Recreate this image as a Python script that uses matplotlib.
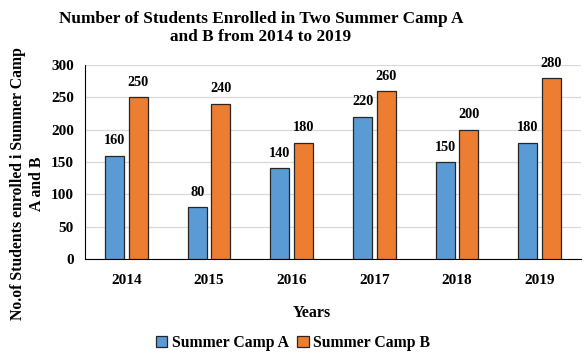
import matplotlib
matplotlib.use("Agg")
import matplotlib.pyplot as plt
import numpy as np

years = ["2014", "2015", "2016", "2017", "2018", "2019"]
camp_a = [160, 80, 140, 220, 150, 180]
camp_b = [250, 240, 180, 260, 200, 280]

plt.rcParams['font.family'] = ['Liberation Serif', 'DejaVu Serif']
plt.rcParams['font.weight'] = 'bold'

W, H = 586, 358
fig = plt.figure(figsize=(W/100, H/100), dpi=100)
ax = fig.add_axes([85/W, 1-259/H, 496/W, 194/H])

x = np.arange(len(years))
w = 0.23
off = 0.142
ba = ax.bar(x - off, camp_a, w, color='#5B9BD5', edgecolor='#262626', linewidth=0.9, label='Summer Camp A', zorder=3)
bb = ax.bar(x + off, camp_b, w, color='#ED7D31', edgecolor='#262626', linewidth=0.9, label='Summer Camp B', zorder=3)
for bars in (ba, bb):
    for r in bars:
        ax.annotate(f"{int(r.get_height())}", (r.get_x() + r.get_width()/2, r.get_height()),
                    xytext=(0, 6), textcoords='offset points',
                    ha='center', va='bottom', fontsize=10.3, fontweight='bold')

ax.set_xlim(-0.5, len(years) - 0.5)
ax.set_ylim(0, 300)
ax.set_yticks(range(0, 301, 50))
ax.set_xticks(x)
ax.set_xticklabels(years, fontsize=11, fontweight='bold')
ax.tick_params(axis='y', length=0, labelsize=11, pad=8)
ax.tick_params(axis='x', length=0, pad=11)
for lab in ax.get_yticklabels():
    lab.set_fontweight('bold')
ax.grid(axis='y', color='#d9d9d9', linewidth=0.9, zorder=0)
ax.spines['top'].set_visible(False)
ax.spines['right'].set_visible(False)
ax.spines['left'].set_color('black')
ax.spines['bottom'].set_color('black')

fig.text(312/W, 1-313/H, "Years", ha='center', va='center', fontsize=11.5, fontweight='bold')
fig.text(27.5/W, 1-184/H, "No.of Students enrolled i Summer Camp\nA and B", rotation=90,
         ha='center', va='center', multialignment='center', fontsize=11.3, fontweight='bold',
         linespacing=1.3)
fig.text(261/W, 1-28/H, "Number of Students Enrolled in Two Summer Camp A\nand B from 2014 to 2019",
         ha='center', va='center', multialignment='center', fontsize=12.4, fontweight='bold',
         linespacing=1.2)

fig.legend(handles=[ba, bb], loc='center', bbox_to_anchor=(293/W, 1-343/H), ncol=2,
           frameon=False, fontsize=11.3, handlelength=0.75, handleheight=0.75, handletextpad=0.3,
           columnspacing=0.5, borderpad=0, borderaxespad=0)

fig.savefig("out.png", dpi=100)
